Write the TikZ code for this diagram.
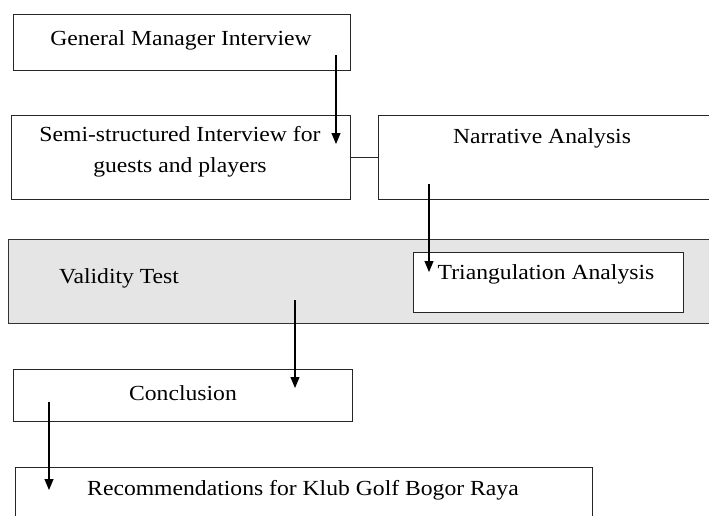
\documentclass[tikz,border=0pt]{standalone}
\usepackage{fontspec}
\setmainfont[FakeStretch=1.1]{Liberation Serif}
\usetikzlibrary{arrows.meta}
\begin{document}
\begin{tikzpicture}[x=1pt,y=-1pt,
  box/.style={draw=black!85, line width=1.2pt, fill=white, inner sep=0pt, anchor=north west},
  band/.style={draw=black!80, line width=1.4pt, fill=black!10, inner sep=0pt, anchor=north west},
  lbl/.style={font=\fontsize{21.5}{31}\selectfont, text=black, inner sep=0pt},
  arr/.style={-{Triangle[length=11pt,width=9pt]}, line width=1.1pt, draw=black},
  link/.style={line width=1.2pt, draw=black!85}]
\clip (0,0) rectangle (709,515);
% boxes
\node[box, minimum width=337pt, minimum height=56pt] (gmbox) at (13,14) {};
\node[lbl] (gm) at (181,40) {General Manager Interview};
\node[box, minimum width=339pt, minimum height=84pt] (semibox) at (11,115) {};
\node[lbl, align=center] (semi) at (180,152) {Semi-structured Interview for\\guests and players};
\node[box, minimum width=340pt, minimum height=84pt] (narbox) at (378,115) {};
\node[lbl] (nar) at (542,138) {Narrative Analysis};
\draw[link] (semibox.east) -- (narbox.west);
\node[band, minimum width=710pt, minimum height=84pt] (band) at (8,239) {};
\node[lbl] (valid) at (119,278) {Validity Test};
\node[box, minimum width=270pt, minimum height=60pt] (tribox) at (413,252) {};
\node[lbl] (tri) at (546,274) {Triangulation Analysis};
\node[box, minimum width=339pt, minimum height=52pt] (conbox) at (13,369) {};
\node[lbl] (con) at (183,393) {Conclusion};
\node[box, minimum width=577pt, minimum height=60pt] (recbox) at (15,467) {};
\node[lbl] (rec) at (303,490) {Recommendations for Klub Golf Bogor Raya};
% arrows
\coordinate (a1s) at (336,55);  \coordinate (a1e) at (336,144);
\coordinate (a2s) at (429,184); \coordinate (a2e) at (429,272);
\coordinate (a3s) at (295,300); \coordinate (a3e) at (295,388);
\coordinate (a4s) at (49,402);  \coordinate (a4e) at (49,490);
\draw[arr] (a1s) -- (a1e);
\draw[arr] (a2s) -- (a2e);
\draw[arr] (a3s) -- (a3e);
\draw[arr] (a4s) -- (a4e);
\end{tikzpicture}
\end{document}
